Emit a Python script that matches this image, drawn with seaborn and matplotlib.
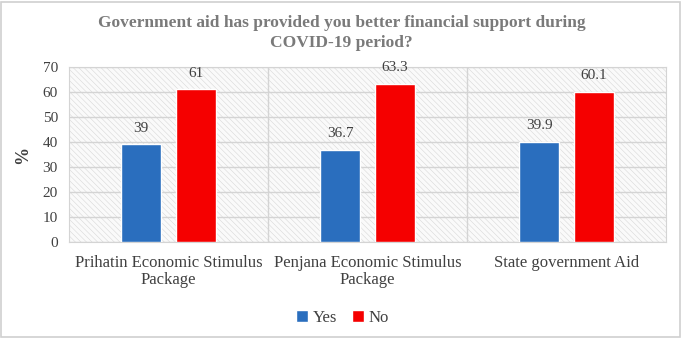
import pandas as pd
import matplotlib.pyplot as plt
import seaborn as sns
from matplotlib.patches import Rectangle

# data
categories = ['Prihatin Economic Stimulus\nPackage', 'Penjana Economic Stimulus\nPackage', 'State government Aid']
yes_vals = [39, 36.7, 39.9]
no_vals = [61, 63.3, 60.1]
yes_labels = ['39', '36.7', '39.9']
no_labels = ['61', '63.3', '60.1']

df = pd.DataFrame({
    'Category': categories * 2,
    'Answer': ['Yes'] * 3 + ['No'] * 3,
    'Value': yes_vals + no_vals,
})

sns.set_style('white')
plt.rcParams['font.family'] = ['Liberation Serif', 'DejaVu Serif']
plt.rcParams['hatch.linewidth'] = 0.4

fig = plt.figure(figsize=(6.83, 3.38), dpi=100)
ax = fig.add_axes([0.101, 0.284, 0.874, 0.518])

# hatched background
ax.add_patch(Rectangle((0, 0), 1, 1, transform=ax.transAxes, facecolor='#fafafa',
                       edgecolor='#d8d8d8', hatch='\\\\\\\\\\\\', linewidth=0, zorder=0))

sns.barplot(data=df, x='Category', y='Value', hue='Answer',
            palette={'Yes': '#2A6EBE', 'No': '#F50000'},
            width=0.55, gap=0.27, ax=ax, zorder=3, saturation=1)

ax.set_ylim(0, 70)
ax.set_xlim(-0.5, 2.5)
ax.set_yticks(range(0, 71, 10))
ax.yaxis.grid(True, color='#d4d4d4', linewidth=1, zorder=1)
for xb in [0.5, 1.5]:
    ax.axvline(xb, color='#d4d4d4', linewidth=1, zorder=1)
ax.set_axisbelow(True)
for s in ax.spines.values():
    s.set_color('#d4d4d4')
ax.tick_params(axis='y', labelsize=11, colors='#404040', length=0, pad=8)
ax.tick_params(axis='x', labelsize=12, colors='#404040', length=0, pad=9)
for t in ax.get_xticklabels():
    t.set_linespacing(1.1)
ax.set_xlabel('')
ax.set_ylabel('%', fontsize=13, fontweight='bold', color='#404040', labelpad=8)

# value labels
for cont, labs in zip(ax.containers, [yes_labels, no_labels]):
    ax.bar_label(cont, labels=labs, padding=7, fontsize=11, color='#404040')

fig.suptitle('Government aid has provided you better financial support during\nCOVID-19 period?',
             x=0.5, y=0.955, fontsize=12.5, fontweight='bold', color='#7a7a7a', linespacing=1.3)

ax.legend(loc='upper center', bbox_to_anchor=(0.458, -0.3), ncol=2, frameon=False,
          fontsize=12, handlelength=0.7, handleheight=0.7, handletextpad=0.3,
          columnspacing=0.9, labelcolor='#404040')

fig.patches.append(Rectangle((0.002, 0.003), 0.993, 0.992, transform=fig.transFigure,
                             fill=False, edgecolor='#d0d0d0', linewidth=1.2))

fig.savefig('out.png', dpi=100)
